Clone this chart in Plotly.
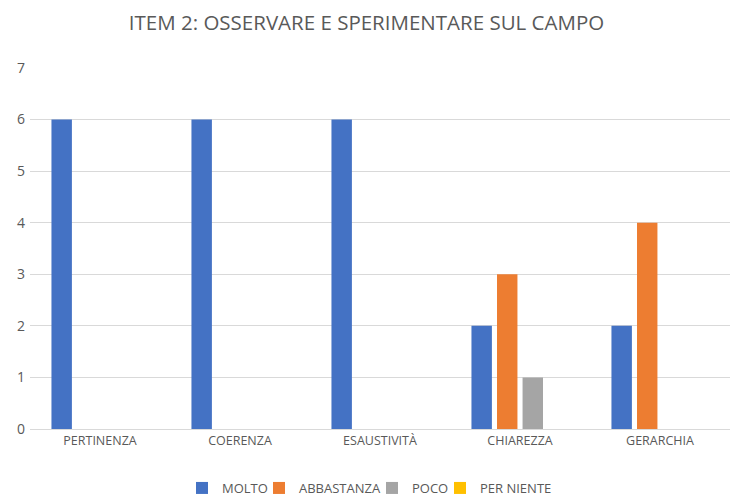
import plotly.graph_objects as go

categories = ["PERTINENZA", "COERENZA", "ESAUSTIVITÀ", "CHIAREZZA", "GERARCHIA"]
series_names = ["MOLTO", "ABBASTANZA", "POCO", "PER NIENTE"]
molto = [6, 6, 6, 2, 2]
abbastanza = [0, 0, 0, 3, 4]
poco = [0, 0, 0, 1, 0]
per_niente = [0, 0, 0, 0, 0]
colors = ["#4472C4", "#ED7D31", "#A5A5A5", "#FFC000"]
y_ticks = [0, 1, 2, 3, 4, 5, 6, 7]

FONT = "Open Sans, sans-serif"
W, H = 733, 498
# pixel x where each legend entry's text starts
legend_text_x = [222, 299, 412, 480]

fig = go.Figure()
legend_ids = ["legend", "legend2", "legend3", "legend4"]
for name, vals, col, lid in zip(series_names, [molto, abbastanza, poco, per_niente], colors, legend_ids):
    fig.add_trace(go.Bar(x=categories, y=vals, name=name, marker_color=col,
                         marker_line_width=0, legend=lid))

legend_common = dict(orientation="h", xref="container", yref="container",
                     xanchor="left", yanchor="middle", y=1 - 488 / H,
                     font=dict(family=FONT, size=13, color="#595959"),
                     itemwidth=30, bgcolor="rgba(0,0,0,0)")
legends = {}
for lid, tx in zip(legend_ids, legend_text_x):
    legends[lid] = dict(legend_common, x=(tx - 40) / W)

fig.update_layout(
    width=W, height=H,
    margin=dict(l=30, r=3, t=68, b=69, autoexpand=False),
    paper_bgcolor="white", plot_bgcolor="white",
    barmode="group", bargap=0.27, bargroupgap=0.2,
    title=dict(text="ITEM 2: OSSERVARE E SPERIMENTARE SUL CAMPO",
               x=0.5, xanchor="center", y=1 - 23 / H, yanchor="middle",
               font=dict(family=FONT, size=20.5, color="#595959")),
    font=dict(family=FONT, color="#595959", size=13),
    showlegend=True,
    **legends,
)
fig.update_yaxes(range=[0, 7], tickvals=y_ticks, showgrid=True, gridcolor="#D9D9D9",
                 gridwidth=1, zeroline=False, showline=False, ticks="", automargin=False,
                 tickfont=dict(size=14, color="#595959"), ticklabelstandoff=4)
fig.update_xaxes(showline=True, linecolor="#D9D9D9", linewidth=1, ticks="", automargin=False,
                 tickfont=dict(size=12.5, color="#595959"))

fig.write_html("out.html", config={"displayModeBar": False},
               post_script="document.body.style.margin='0px';document.body.style.padding='0px';")
